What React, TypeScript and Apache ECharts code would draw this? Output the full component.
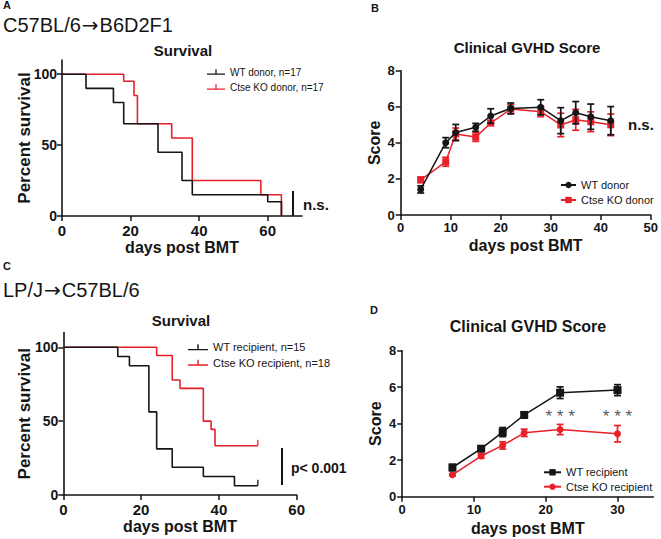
import React, { useEffect, useRef } from 'react';
import * as echarts from 'echarts';

const FONT = 'Arial, "Liberation Sans", Helvetica, sans-serif';
const BLACK = '#151515';
const RED = '#e8202a';

// ---- Panel A: survival C57BL/6 -> B6D2F1
const legendA = ['WT donor, n=17', 'Ctse KO donor, n=17'];
const survA_WT: number[][] = [[0, 100], [7, 90], [15, 80], [18, 65], [28, 45], [35, 25], [38, 15], [60, 10], [64, 0]];
const survA_KO: number[][] = [[0, 100], [18, 95], [21, 85], [22, 65], [32, 55], [38, 25], [58, 15], [64, 0]];
const ticksA_x = [0, 20, 40, 60];
const ticksSurv_y = [0, 50, 100];

// ---- Panel B: clinical score donor
const legendB = ['WT donor', 'Ctse KO donor'];
const daysB = [4, 9, 11, 15, 18, 22, 28, 32, 35, 38, 42];
const scoreB_WT = [1.42, 4.01, 4.57, 4.86, 5.49, 5.91, 5.97, 5.23, 5.67, 5.45, 5.23];
const semB_WT = [0.2, 0.28, 0.45, 0.22, 0.4, 0.3, 0.42, 0.72, 0.62, 0.7, 0.78];
const scoreB_KO = [1.95, 2.95, 4.49, 4.32, 5.1, 5.87, 5.73, 4.99, 5.28, 5.17, 5.0];
const semB_KO = [0.15, 0.25, 0.33, 0.24, 0.13, 0.25, 0.28, 0.65, 0.58, 0.55, 0.6];
const ticksB_x = [0, 10, 20, 30, 40, 50];
const ticksScore_y = [0, 2, 4, 6, 8];

// ---- Panel C: survival LP/J -> C57BL/6
const legendC = ['WT recipient, n=15', 'Ctse KO recipient, n=18'];
const survC_WT: number[][] = [[0, 100], [14, 93.75], [17, 87.5], [22, 56.25], [24, 31.25], [28, 18.75], [36, 12.5], [44, 6.25], [50, 6.25]];
const survC_KO: number[][] = [[0, 100], [24, 94.4], [28, 77.8], [30, 72.2], [36, 50], [38, 44.4], [39, 33.3], [50, 33.3]];
const censorC_WT: number[][] = [[50, 6.25]];
const censorC_KO: number[][] = [[50, 33.3]];
const ticksC_x = [0, 20, 40, 60];

// ---- Panel D: clinical score recipient
const legendD = ['WT recipient', 'Ctse KO recipient'];
const daysD = [7, 11, 14, 17, 22, 30];
const scoreD_WT = [1.6, 2.63, 3.54, 4.48, 5.7, 5.84];
const semD_WT = [0.17, 0.08, 0.25, 0.17, 0.32, 0.3];
const scoreD_KO = [1.2, 2.23, 2.81, 3.5, 3.68, 3.45];
const semD_KO = [0.05, 0.12, 0.2, 0.2, 0.28, 0.45];
const sigDaysD = [22, 30];
const sigLevelD = 4.4;
const ticksD_x = [0, 10, 20, 30];

const survIcon = 'path://M0,5.4H20V6.8H0Z M9.3,0.8H10.7V6.8H9.3Z';

function xAx(gridIndex: number, max: number, ticks: number[], fs: number, nameGap: number, margin: number) {
  return {
    type: 'value', gridIndex, min: 0, max,
    name: 'days post BMT', nameLocation: 'middle', nameGap, nameMoveOverlap: false,
    nameTextStyle: { fontFamily: FONT, fontSize: 16, fontWeight: 'bold', color: BLACK },
    axisLine: { show: true, onZero: false, lineStyle: { color: BLACK, width: 1.6 } },
    axisTick: { show: true, length: 5, customValues: ticks, lineStyle: { color: BLACK, width: 1.5 } },
    axisLabel: { customValues: ticks, fontFamily: FONT, fontSize: fs, fontWeight: 'bold', color: BLACK, margin },
    splitLine: { show: false },
  };
}

function yAx(gridIndex: number, max: number, ticks: number[], name: string, fs: number, nameFs: number, nameGap: number, margin: number) {
  return {
    type: 'value', gridIndex, min: 0, max,
    name, nameLocation: 'middle', nameGap, nameMoveOverlap: false,
    nameTextStyle: { fontFamily: FONT, fontSize: nameFs, fontWeight: 'bold', color: BLACK },
    axisLine: { show: true, onZero: false, lineStyle: { color: BLACK, width: 1.6 } },
    axisTick: { show: true, length: 5, customValues: ticks, lineStyle: { color: BLACK, width: 1.5 } },
    axisLabel: { customValues: ticks, fontFamily: FONT, fontSize: fs, fontWeight: 'bold', color: BLACK, margin },
    splitLine: { show: false },
  };
}

function survSeries(name: string, idx: number, data: number[][], color: string, z: number) {
  return {
    type: 'line', name, xAxisIndex: idx, yAxisIndex: idx, data, step: 'end',
    showSymbol: false, symbol: 'none', z,
    lineStyle: { color, width: 1.6 }, itemStyle: { color },
  };
}

function censorSeries(idx: number, data: number[][], color: string) {
  return {
    type: 'scatter', xAxisIndex: idx, yAxisIndex: idx, data,
    symbol: 'rect', symbolSize: [1.6, 6], symbolOffset: [0, -3],
    itemStyle: { color }, silent: true, z: 5,
  };
}

function scoreSeries(name: string, idx: number, days: number[], vals: number[], color: string, symbol: string, size: number, z: number) {
  return {
    type: 'line', name, xAxisIndex: idx, yAxisIndex: idx,
    data: days.map((d, i) => [d, vals[i]]),
    symbol, symbolSize: size, showSymbol: true, z,
    lineStyle: { color, width: 1.5 }, itemStyle: { color },
  };
}

function errSeries(idx: number, days: number[], vals: number[], sems: number[], color: string, z: number) {
  return {
    type: 'custom', xAxisIndex: idx, yAxisIndex: idx, z, silent: true,
    data: days.map((d, i) => [d, vals[i], sems[i]]),
    renderItem: (_params: any, api: any) => {
      const x = api.value(0);
      const y = api.value(1);
      const e = api.value(2);
      const p1 = api.coord([x, y + e]);
      const p2 = api.coord([x, y - e]);
      const w = 3.5;
      const style = { stroke: color, lineWidth: 1.7 };
      return {
        type: 'group',
        children: [
          { type: 'line', shape: { x1: p1[0], y1: p1[1], x2: p2[0], y2: p2[1] }, style },
          { type: 'line', shape: { x1: p1[0] - w, y1: p1[1], x2: p1[0] + w, y2: p1[1] }, style },
          { type: 'line', shape: { x1: p2[0] - w, y1: p2[1], x2: p2[0] + w, y2: p2[1] }, style },
        ],
      };
    },
  };
}

function txt(text: string, x: number, y: number, size: number, weight: string, align = 'left', color = BLACK, rich?: any) {
  const style: any = {
    text, fill: color, font: `${weight} ${size}px ${FONT}`,
    textAlign: align, textVerticalAlign: 'middle', align, verticalAlign: 'middle',
  };
  if (rich) style.rich = rich;
  return { type: 'text', x, y, silent: true, style };
}

const arrowRich = {
  a: { fontFamily: '"DejaVu Sans"', fontSize: 20, fill: BLACK, padding: [0, 1, 0, 1] },
};

function vbar(x: number, y1: number, y2: number) {
  return { type: 'line', silent: true, shape: { x1: x, y1, x2: x, y2 }, style: { stroke: BLACK, lineWidth: 2 } };
}

function legendCfg(data: string[], left: number, top: number, itemWidth: number, fs: number, gap: number, icon?: string) {
  const l: any = {
    data, left, top, orient: 'vertical', padding: 0, itemWidth, itemHeight: 8, itemGap: gap,
    textStyle: { fontFamily: FONT, fontSize: fs, color: BLACK, lineHeight: fs + 2 },
    selectedMode: false,
  };
  if (icon) l.icon = icon;
  return l;
}

export default function App() {
  const ref = useRef<HTMLDivElement>(null);
  useEffect(() => {
    document.body.style.margin = '0';
    if (!ref.current) return;
    const chart = echarts.init(ref.current, null, { renderer: 'svg' });
    const option: any = {
      animation: false,
      backgroundColor: '#ffffff',
      textStyle: { fontFamily: FONT },
      grid: [
        { left: 62, top: 60, width: 240, height: 156 },
        { left: 400.7, top: 70.7, width: 251, height: 144.3 },
        { left: 63.3, top: 332.5, width: 233.4, height: 162.5 },
        { left: 402.2, top: 350.7, width: 251.2, height: 146 },
      ],
      xAxis: [
        xAx(0, 70, ticksA_x, 15, 23, 7),
        xAx(1, 50, ticksB_x, 13, 22, 6),
        xAx(2, 60, ticksC_x, 15, 23, 7),
        xAx(3, 35, ticksD_x, 13, 24, 6),
      ],
      yAxis: [
        yAx(0, 110, ticksSurv_y, 'Percent survival', 14, 17, 29, 5),
        yAx(1, 8, ticksScore_y, 'Score', 13, 16, 18, 6),
        yAx(2, 110, ticksSurv_y, 'Percent survival', 14, 17, 30, 5),
        yAx(3, 8, ticksScore_y, 'Score', 13, 16, 19, 6),
      ],
      legend: [
        legendCfg(legendA, 207, 66, 18, 10, 3, survIcon),
        legendCfg(legendB, 560, 178.5, 15, 11, 2),
        legendCfg(legendC, 188, 340.8, 20, 11, 2.4, survIcon),
        legendCfg(legendD, 543, 465.8, 17, 11, 1.4),
      ],
      series: [
        survSeries(legendA[1], 0, survA_KO, RED, 2),
        survSeries(legendA[0], 0, survA_WT, BLACK, 3),
        errSeries(1, daysB, scoreB_KO, semB_KO, RED, 2),
        scoreSeries(legendB[1], 1, daysB, scoreB_KO, RED, 'rect', 7, 2),
        errSeries(1, daysB, scoreB_WT, semB_WT, BLACK, 3),
        scoreSeries(legendB[0], 1, daysB, scoreB_WT, BLACK, 'circle', 7, 3),
        survSeries(legendC[1], 2, survC_KO, RED, 2),
        survSeries(legendC[0], 2, survC_WT, BLACK, 3),
        censorSeries(2, censorC_KO, RED),
        censorSeries(2, censorC_WT, BLACK),
        errSeries(3, daysD, scoreD_KO, semD_KO, RED, 2),
        scoreSeries(legendD[1], 3, daysD, scoreD_KO, RED, 'circle', 7, 2),
        errSeries(3, daysD, scoreD_WT, semD_WT, BLACK, 3),
        scoreSeries(legendD[0], 3, daysD, scoreD_WT, BLACK, 'rect', 8, 3),
        {
          type: 'scatter', xAxisIndex: 3, yAxisIndex: 3, silent: true,
          data: sigDaysD.map((d) => [d, sigLevelD]),
          symbolSize: 1, itemStyle: { color: 'rgba(0,0,0,0)' },
          label: { show: true, position: 'inside', formatter: '* * *', fontFamily: FONT, fontSize: 17, color: '#2a2a2a' },
        },
      ],
      graphic: [
        txt('A', 3, 5, 11, 'bold'),
        txt('C57BL/6{a|\u2192}B6D2F1', 3, 25, 20, 'normal', 'left', BLACK, arrowRich),
        txt('B', 371, 8, 11, 'bold'),
        txt('C', 3, 266, 11, 'bold'),
        txt('LP/J{a|\u2192}C57BL/6', 3, 290, 20, 'normal', 'left', BLACK, arrowRich),
        txt('D', 370, 310, 11, 'bold'),
        txt('Survival', 183, 50, 15, 'bold', 'center'),
        txt('Clinical GVHD Score', 527, 47.5, 15, 'bold', 'center'),
        txt('Survival', 181, 320, 15, 'bold', 'center'),
        txt('Clinical GVHD Score', 528, 326, 16, 'bold', 'center'),
        vbar(293, 191, 216),
        txt('n.s.', 303, 204, 15, 'bold'),
        txt('n.s.', 628, 124, 15, 'bold'),
        vbar(282, 448, 485),
        txt('p< 0.001', 291, 468, 14, 'bold'),
      ],
    };
    chart.setOption(option);
    return () => chart.dispose();
  }, []);
  return <div ref={ref} style={{ width: 661, height: 539 }} />;
}
